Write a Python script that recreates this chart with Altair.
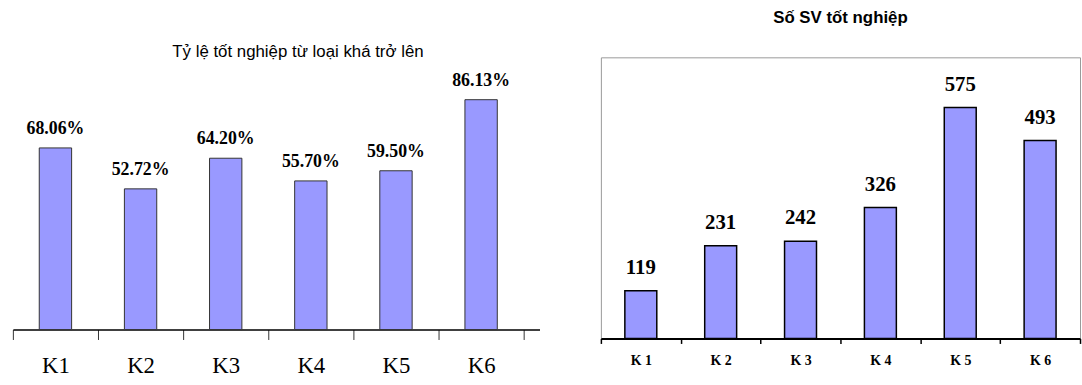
import altair as alt
import pandas as pd

categories = ["K1", "K2", "K3", "K4", "K5", "K6"]
rate_pct = [68.06, 52.72, 64.20, 55.70, 59.50, 86.13]
graduates = [119, 231, 242, 326, 575, 493]

title_left = "Tỷ lệ tốt nghiệp từ loại khá trở lên"
title_right = "Số SV tốt nghiệp"

df1 = pd.DataFrame({"cat": categories, "rate": rate_pct,
                    "label": [f"{v:.2f}%" for v in rate_pct]})
df2 = pd.DataFrame({"cat": categories, "n": graduates})

FILL = "#9999FF"
SERIF = "Liberation Serif"
SANS = "Liberation Sans"

x1 = alt.X("cat:N", sort=categories, title=None,
           scale=alt.Scale(paddingInner=0, paddingOuter=0.093, align=0),
           axis=alt.Axis(labelAngle=0, tickBand="extent", tickSize=10,
                         tickColor="#333333", tickWidth=1,
                         domainColor="#000000", domainWidth=1.5,
                         labelFont=SERIF, labelFontSize=23, labelColor="#000000",
                         labelPadding=15))
y1 = alt.Y("rate:Q", scale=alt.Scale(domain=[0, 102.0]), axis=None)

bars1 = alt.Chart(df1).mark_bar(color=FILL, stroke="#333333", strokeWidth=1,
                                width=alt.RelativeBandSize(0.38)).encode(x=x1, y=y1)
text1 = alt.Chart(df1).mark_text(font=SERIF, fontSize=18, fontWeight="bold",
                                 baseline="alphabetic", dy=-14, color="#000000").encode(
    x=x1, y=y1, text="label:N")
left = (bars1 + text1).properties(
    width=532, height=275,
    title=alt.TitleParams(title_left, font=SANS, fontSize=17, fontWeight="normal",
                          baseline="alphabetic", offset=-17, dx=22, color="#000000",
                          anchor="middle"))

x2 = alt.X("cat:N", sort=categories, title=None,
           scale=alt.Scale(paddingInner=0, paddingOuter=0),
           axis=alt.Axis(labelAngle=0, tickBand="extent", tickSize=5,
                         tickColor="#000000", tickWidth=1.5,
                         domainColor="#000000", domainWidth=2,
                         labelFont=SERIF, labelFontSize=14, labelFontWeight="bold",
                         labelColor="#000000", labelPadding=10,
                         labelExpr="replace(datum.label, 'K', 'K ')"))
y2 = alt.Y("n:Q", scale=alt.Scale(domain=[0, 700]), axis=None)

bars2 = alt.Chart(df2).mark_bar(color=FILL, stroke="#000000", strokeWidth=1.5,
                                width=alt.RelativeBandSize(0.4)).encode(x=x2, y=y2)
text2 = alt.Chart(df2).mark_text(font=SERIF, fontSize=21, fontWeight="bold",
                                 baseline="alphabetic", dy=-17, color="#000000").encode(
    x=x2, y=y2, text="n:Q")
right = (bars2 + text2).properties(
    width=484, height=284,
    view=alt.ViewBackground(stroke="#999999", strokeWidth=1),
    title=alt.TitleParams(title_right, font=SANS, fontSize=17, fontWeight="bold",
                          baseline="alphabetic", offset=17.6, color="#000000",
                          anchor="middle"))

chart = alt.hconcat(left, right, spacing=62, bounds="flush").properties(
    padding={"left": 12, "top": 6, "right": 0, "bottom": 0},
    background="#ffffff",
).configure_view(strokeWidth=0)

chart.save("out.html", embed_options={"renderer": "svg", "actions": False})
